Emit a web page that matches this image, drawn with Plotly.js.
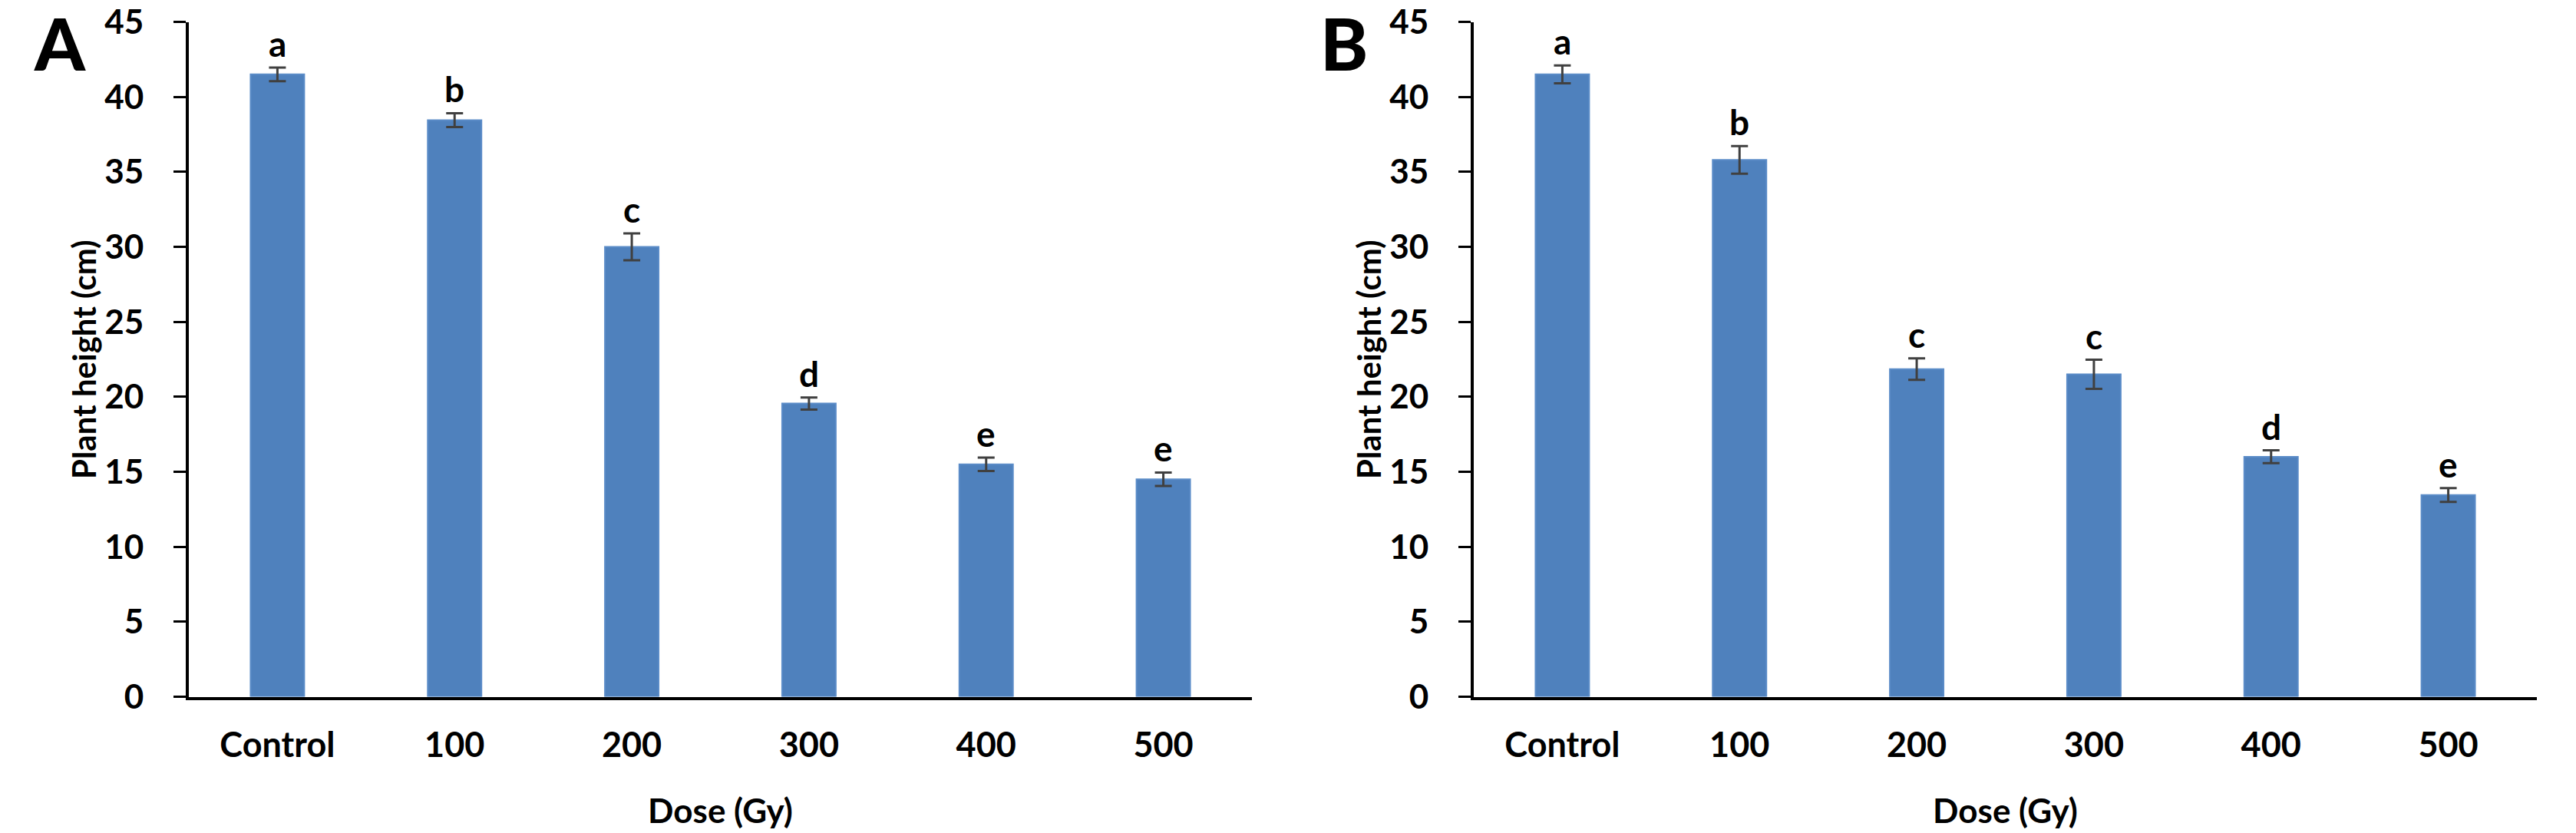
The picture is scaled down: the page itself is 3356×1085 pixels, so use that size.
<!DOCTYPE html>
<html>
<head>
<meta charset="utf-8">
<script src="https://cdn.plot.ly/plotly-3.0.1.min.js"></script>
<style>
  html, body { margin: 0; padding: 0; background: #ffffff; }
  #chart { width: 3356px; height: 1085px; }
</style>
</head>
<body>
<div id="chart"></div>
<script>
// Dose groups (Gy)
const doses = ['Control', '100', '200', '300', '400', '500'];

// Panel A: mean plant height (cm), standard error, significance letters
const heightA = [41.5, 38.45, 30.0, 19.55, 15.5, 14.5];
const errA = [0.46, 0.46, 0.9, 0.4, 0.45, 0.45];
const lettersA = ['a', 'b', 'c', 'd', 'e', 'e'];

// Panel B: mean plant height (cm), standard error, significance letters
const heightB = [41.5, 35.8, 21.85, 21.5, 16.0, 13.45];
const errB = [0.6, 0.92, 0.72, 0.97, 0.43, 0.46];
const lettersB = ['a', 'b', 'c', 'c', 'd', 'e'];

const yTicks = [0, 5, 10, 15, 20, 25, 30, 35, 40, 45];

const FONT = 'Lato, "Open Sans", sans-serif';
const BAR_FILL = '#4f81bd';
const BAR_EDGE = '#5b8cc8';
const ERR_COLOR = '#404040';

// plot area in pixels
const W = 3356, H = 1085;
const domA = [246, 1631], domB = [1920, 3305];
const yDom = [(H - 907.5) / H, (H - 28.5) / H];

function barTrace(values, errs, xa, ya) {
  return {
    type: 'bar',
    x: doses,
    y: values,
    xaxis: xa,
    yaxis: ya,
    marker: { color: BAR_FILL, line: { color: BAR_EDGE, width: 2 } },
    error_y: { type: 'data', array: errs, visible: true, color: ERR_COLOR, thickness: 3, width: 11 },
    hoverinfo: 'x+y',
    showlegend: false
  };
}

// significance letters sit just above each error bar (x given as category index)
function letterNotes(values, errs, letters, xa, ya) {
  return letters.map((t, i) => ({
    x: i,
    y: values[i] + errs[i],
    xref: xa,
    yref: ya,
    text: t,
    showarrow: false,
    xanchor: 'center',
    yanchor: 'bottom',
    yshift: 2,
    font: { family: FONT, size: 46, color: '#000000', weight: 'bold' }
  }));
}

function xAxis(domain, anchor) {
  return {
    domain: [domain[0] / W, domain[1] / W],
    anchor: anchor,
    type: 'category',
    range: [-0.5, 5.5],
    showline: true,
    linecolor: '#000000',
    linewidth: 4,
    ticks: '',
    showgrid: false,
    zeroline: false,
    ticklabelstandoff: 20,
    tickfont: { family: FONT, size: 45, color: '#000000', weight: 'bold' },
    title: {
      text: 'Dose (Gy)',
      standoff: 48,
      font: { family: FONT, size: 44, color: '#000000', weight: 'bold' }
    }
  };
}

function yAxis(anchor) {
  return {
    domain: yDom,
    anchor: anchor,
    range: [0, 45],
    tickvals: yTicks,
    ticktext: yTicks.map(String),
    showline: true,
    linecolor: '#000000',
    linewidth: 4,
    ticks: 'outside',
    ticklen: 16,
    tickwidth: 3,
    tickcolor: '#000000',
    showgrid: false,
    zeroline: false,
    ticklabelstandoff: 30,
    ticklabeloverflow: 'allow',
    tickfont: { family: FONT, size: 44, color: '#000000', weight: 'bold' }
  };
}

const data = [
  barTrace(heightA, errA, 'x', 'y'),
  barTrace(heightB, errB, 'x2', 'y2')
];

const panelLabels = [
  { text: 'A', x: 78 },
  { text: 'B', x: 1751 }
].map(p => ({
  x: p.x / W,
  y: 1 - 55 / H,
  xref: 'paper',
  yref: 'paper',
  text: p.text,
  showarrow: false,
  xanchor: 'center',
  yanchor: 'middle',
  font: { family: FONT, size: 94, color: '#000000', weight: 900 }
}));

// vertical y-axis titles
const yTitles = [109, 1783].map(px => ({
  x: px / W,
  y: (yDom[0] + yDom[1]) / 2,
  xref: 'paper',
  yref: 'paper',
  text: 'Plant height (cm)',
  textangle: -90,
  showarrow: false,
  xanchor: 'center',
  yanchor: 'middle',
  font: { family: FONT, size: 42, color: '#000000', weight: 'bold' }
}));

const layout = {
  width: W,
  height: H,
  autosize: false,
  margin: { l: 0, r: 0, t: 0, b: 0, pad: 0 },
  paper_bgcolor: '#ffffff',
  plot_bgcolor: '#ffffff',
  bargap: 0.697,
  font: { family: FONT, color: '#000000' },
  xaxis: xAxis(domA, 'y'),
  yaxis: yAxis('x'),
  xaxis2: xAxis(domB, 'y2'),
  yaxis2: yAxis('x2'),
  annotations: panelLabels
    .concat(yTitles)
    .concat(letterNotes(heightA, errA, lettersA, 'x', 'y'))
    .concat(letterNotes(heightB, errB, lettersB, 'x2', 'y2'))
};

Plotly.newPlot('chart', data, layout, { displayModeBar: false, staticPlot: true });
</script>
</body>
</html>
